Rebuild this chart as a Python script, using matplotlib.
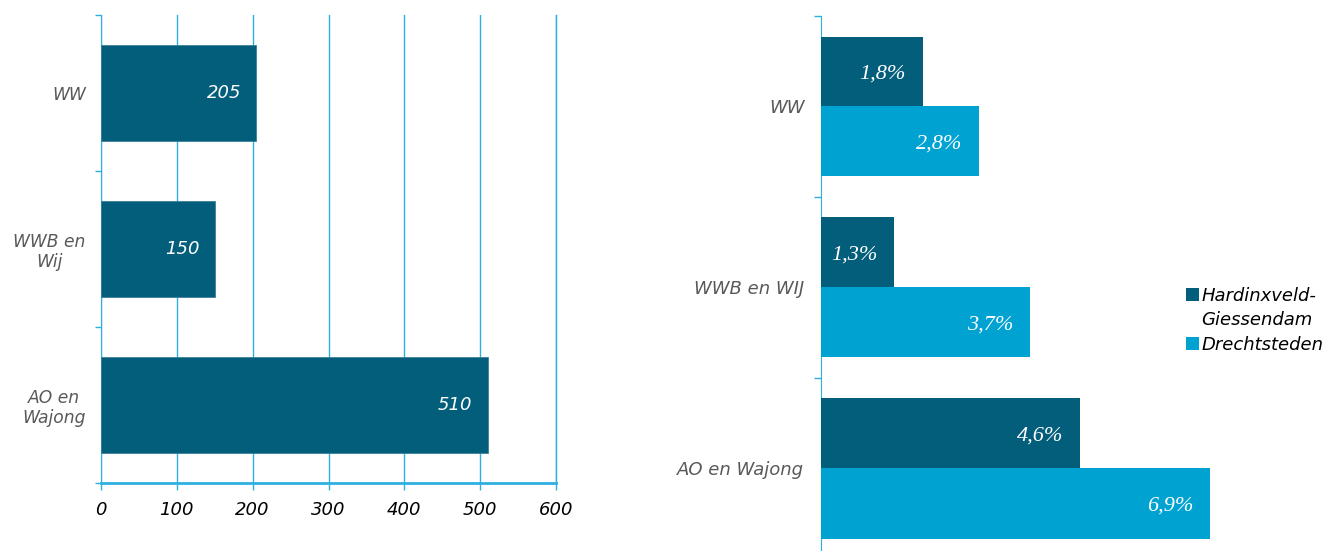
import matplotlib
matplotlib.use("Agg")
import matplotlib.pyplot as plt
from matplotlib.patches import Patch

# ---- data ----
left_categories = ["WW", "WWB en\nWij", "AO en\nWajong"]
left_values = [205, 150, 510]
left_labels = ["205", "150", "510"]
left_xticks = [0, 100, 200, 300, 400, 500, 600]

right_categories = ["WW", "WWB en WIJ", "AO en Wajong"]
hg_values = [1.8, 1.3, 4.6]
ds_values = [2.8, 3.7, 6.9]
hg_labels = ["1,8%", "1,3%", "4,6%"]
ds_labels = ["2,8%", "3,7%", "6,9%"]
legend_lines = ["Hardinxveld-", "Giessendam", "Drechtsteden"]

DARK = "#035E7C"
LIGHT = "#00A2D2"
AXC = "#2DB0E0"
GRAY = "#595959"

W, H = 1326, 551
fig = plt.figure(figsize=(W / 100, H / 100), dpi=100)

def rect(l, t, r, b):
    return [l / W, 1 - b / H, (r - l) / W, (b - t) / H]

# ---- left chart ----
ax = fig.add_axes(rect(101, 15, 556, 483))
ypos = list(range(len(left_categories)))
ax.barh(ypos, left_values, height=0.62, color=DARK, edgecolor="#3d7f99",
        linewidth=0.6, zorder=3)
ax.set_xlim(0, 600)
ax.set_ylim(2.5, -0.5)
ax.set_xticks(left_xticks)
ax.set_xticklabels([str(v) for v in left_xticks], fontsize=13, style="italic",
                   color="black")
ax.set_yticks(ypos)
ax.set_yticklabels(left_categories, fontsize=12.3, style="italic", color=GRAY,
                   ha="right", multialignment="center", linespacing=1.15)
ax.tick_params(axis="y", which="major", length=0, pad=11)
ax.set_yticks([-0.5, 0.5, 1.5, 2.5], minor=True)
ax.tick_params(axis="y", which="minor", length=4, color=AXC, width=1)
ax.tick_params(axis="x", length=5, color=AXC, width=1, pad=8)
ax.grid(axis="x", color=AXC, linewidth=1, zorder=0)
ax.axvline(600, color=AXC, linewidth=1, zorder=0, clip_on=False)
for s in ["top", "right"]:
    ax.spines[s].set_visible(False)
ax.spines["left"].set_color(AXC)
ax.spines["bottom"].set_color(AXC)
ax.spines["bottom"].set_linewidth(2)
for y, v, lab in zip(ypos, left_values, left_labels):
    ax.annotate(lab, (v, y), xytext=(-11, 0), textcoords="offset points",
                ha="right", va="center", color="white", fontsize=13,
                style="italic", zorder=4)

# ---- right chart ----
band_px = 181.0
top_px = 16
ax2 = fig.add_axes(rect(821, top_px, 821 + 8 * 56.4, H))
n = len(right_categories)
bottom_lim = -0.5 + (H - top_px) / band_px
ax2.set_ylim(bottom_lim, -0.5)
ax2.set_xlim(0, 8)
bh = 70 / band_px
yy = list(range(n))
ax2.barh([y - bh / 2 for y in yy], hg_values, height=bh, color=DARK, zorder=3)
ax2.barh([y + bh / 2 for y in yy], ds_values, height=bh, color=LIGHT, zorder=3)
for y, v, lab in zip(yy, hg_values, hg_labels):
    ax2.annotate(lab, (v, y - bh / 2), xytext=(-12, -2), textcoords="offset points",
                 ha="right", va="center", color="white", fontsize=16,
                 style="italic", family="Liberation Serif")
for y, v, lab in zip(yy, ds_values, ds_labels):
    ax2.annotate(lab, (v, y + bh / 2), xytext=(-12, -2), textcoords="offset points",
                 ha="right", va="center", color="white", fontsize=16,
                 style="italic", family="Liberation Serif")
ax2.set_yticks(yy)
ax2.set_yticklabels(right_categories, fontsize=13, style="italic", color=GRAY)
ax2.tick_params(axis="y", which="major", length=0, pad=12)
ax2.set_yticks([-0.5, 0.5, 1.5], minor=True)
ax2.tick_params(axis="y", which="minor", length=5, color=AXC, width=1)
ax2.set_xticks([])
for s in ["top", "right", "bottom"]:
    ax2.spines[s].set_visible(False)
ax2.spines["left"].set_color(AXC)

handles = [Patch(facecolor=DARK), Patch(facecolor="none", edgecolor="none"),
           Patch(facecolor=LIGHT)]
fig.legend(handles, legend_lines, loc="upper left",
           bbox_to_anchor=(1186 / W, 1 - 287 / H), frameon=False,
           prop={"size": 13, "style": "italic"}, handlelength=0.7,
           handleheight=0.7, handletextpad=0.15, labelspacing=0.35,
           borderpad=0, borderaxespad=0)

fig.savefig("out.png", dpi=100)
